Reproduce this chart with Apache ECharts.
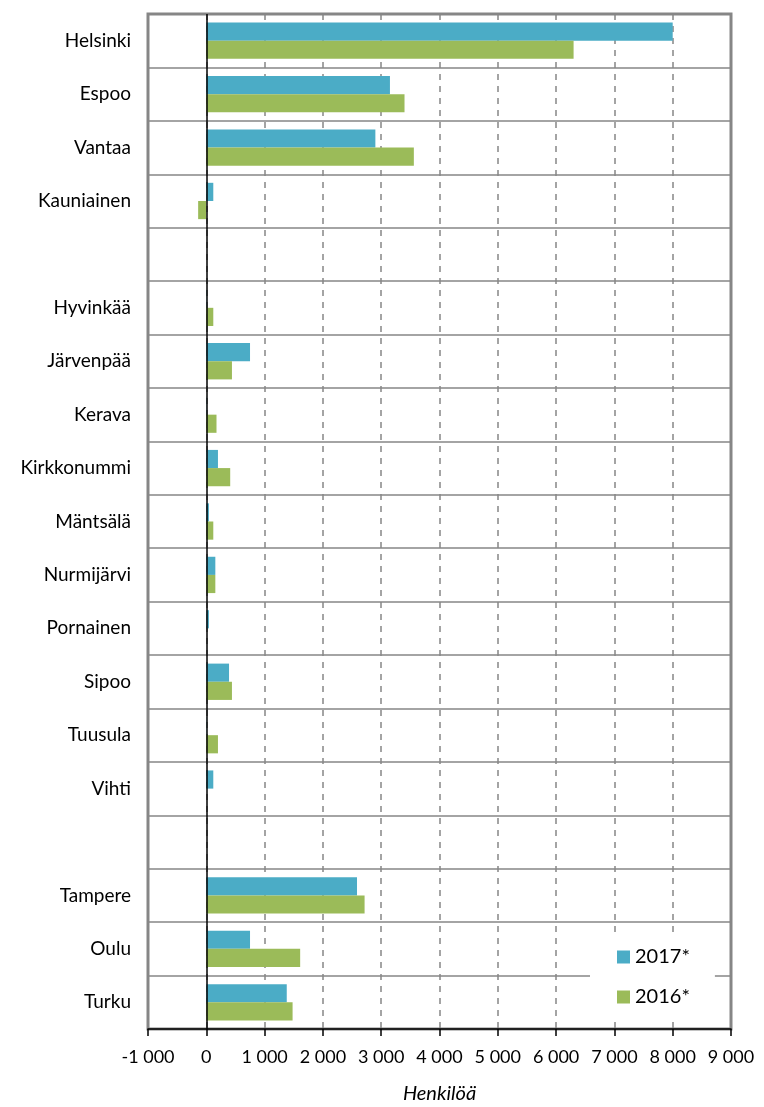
<!DOCTYPE html>
<html><head><meta charset="utf-8">
<script src="https://cdn.jsdelivr.net/npm/echarts@6/dist/echarts.min.js"></script>
<style>html,body{margin:0;padding:0;background:#fff}#c{width:764px;height:1107px}</style>
</head><body><div id="c"></div>
<script>
const categories = ['Helsinki','Espoo','Vantaa','Kauniainen','','Hyvinkää','Järvenpää','Kerava','Kirkkonummi','Mäntsälä','Nurmijärvi','Pornainen','Sipoo','Tuusula','Vihti',' ','Tampere','Oulu','Turku'];
const values2017 = [8000, 3150, 2900, 120, null, 5, 750, 5, 200, 45, 155, 45, 390, 5, 120, null, 2585, 750, 1380];
const values2016 = [6300, 3400, 3560, -140, null, 120, 440, 175, 410, 120, 155, 0, 440, 200, 0, null, 2715, 1610, 1480];
const seriesNames = ['2017*', '2016*'];
const xTicks = {min: -1000, max: 9000, interval: 1000};

const font = 'Lato, "Open Sans", sans-serif';
const chart = echarts.init(document.getElementById('c'));
chart.setOption({
  animation: false,
  textStyle: {fontFamily: font},
  grid: {left: 148, right: 33, top: 14, bottom: 78, show: true, borderColor: '#868686', borderWidth: 3, backgroundColor: 'transparent', containLabel: false, outerBoundsMode: 'none'},
  xAxis: {
    type: 'value', min: xTicks.min, max: xTicks.max, interval: xTicks.interval,
    name: 'Henkilöä', nameLocation: 'middle', nameGap: 55,
    nameTextStyle: {fontStyle: 'italic', fontSize: 20, color: '#000', fontFamily: font},
    axisLine: {show: true, onZero: false, lineStyle: {color: '#000', width: 1.5}},
    axisTick: {show: true, inside: false, length: 7, lineStyle: {color: '#000', width: 1.5}},
    axisLabel: {fontSize: 18, color: '#000', margin: 19, fontFamily: font,
      formatter: v => { const s = Math.abs(v) >= 1000 ? (v < 0 ? '-' : '') + Math.floor(Math.abs(v)/1000) + ' ' + String(Math.abs(v)%1000).padStart(3,'0') : String(v); return s; }},
    splitLine: {show: true, lineStyle: {color: '#868686', width: 1.5, type: [6, 6]}}
  },
  yAxis: {
    type: 'category', data: categories, inverse: true,
    axisLine: {show: false}, axisTick: {show: false},
    axisLabel: {fontSize: 19, color: '#000', margin: 17, fontFamily: font},
    splitLine: {show: true, lineStyle: {color: '#868686', width: 1.5}}
  },
  legend: {
    orient: 'vertical', left: 590, top: 937,
    padding: [10, 25, 10, 27], itemGap: 20, itemWidth: 13, itemHeight: 13,
    backgroundColor: '#fff',
    textStyle: {fontSize: 20, color: '#000', lineHeight: 20, fontFamily: font},
    data: [{name: seriesNames[0], icon: 'rect'}, {name: seriesNames[1], icon: 'rect'}]
  },
  series: [
    {name: seriesNames[0], type: 'bar', data: values2017, itemStyle: {color: '#4BACC6'}, barGap: '0%', barCategoryGap: '32%',
     markLine: {silent: true, symbol: 'none', label: {show: false}, lineStyle: {color: '#000', width: 1.5, type: 'solid'}, data: [{xAxis: 0}]}},
    {name: seriesNames[1], type: 'bar', data: values2016, itemStyle: {color: '#9BBB59'}, barGap: '0%', barCategoryGap: '32%'}
  ]
});
</script></body></html>
